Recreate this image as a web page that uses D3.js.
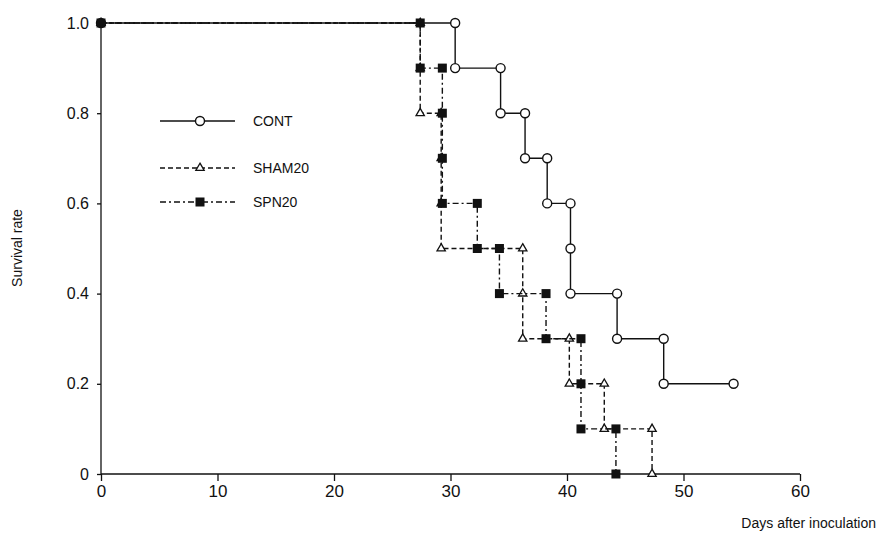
<!DOCTYPE html>
<html><head><meta charset="utf-8">
<script src="https://cdn.jsdelivr.net/npm/d3@7"></script>
<style>body{margin:0;background:#fff}text{font-family:"Liberation Sans",Arial,sans-serif;fill:#111}</style>
</head><body><svg id="c" width="879" height="539"></svg>
<script>
var xTicks = [0, 10, 20, 30, 40, 50, 60];
var yTicks = [0, 0.2, 0.4, 0.6, 0.8, 1.0];
var contPts = [[0,1],[30.4,1],[30.4,0.9],[34.3,0.9],[34.3,0.8],[36.4,0.8],[36.4,0.7],[38.3,0.7],[38.3,0.6],[40.3,0.6],[40.3,0.5],[40.3,0.4],[44.3,0.4],[44.3,0.3],[48.3,0.3],[48.3,0.2],[54.3,0.2]];
var shamPts = [[0,1],[27.4,1],[27.4,0.9],[27.4,0.8],[29.2,0.8],[29.2,0.7],[29.2,0.6],[29.2,0.5],[36.2,0.5],[36.2,0.4],[36.2,0.3],[40.2,0.3],[40.2,0.2],[43.2,0.2],[43.2,0.1],[47.3,0.1],[47.3,0]];
var spnPts = [[0,1],[27.4,1],[27.4,0.9],[29.3,0.9],[29.3,0.8],[29.3,0.7],[29.3,0.6],[32.3,0.6],[32.3,0.5],[34.2,0.5],[34.2,0.4],[38.2,0.4],[38.2,0.3],[41.2,0.3],[41.2,0.2],[41.2,0.1],[44.2,0.1],[44.2,0]];

var svg = d3.select("#c");
var x = d3.scaleLinear().domain([0, 60]).range([101, 800]);
var y = d3.scaleLinear().domain([0, 1]).range([474, 23]);

var xa = svg.append("g").attr("transform", "translate(0,474)")
    .call(d3.axisBottom(x).tickValues(xTicks).tickSize(7).tickPadding(4));
xa.select(".domain").attr("d", "M101,0H800");
xa.selectAll("text").attr("font-size", 17);
var ya = svg.append("g").attr("transform", "translate(101,0)")
    .call(d3.axisLeft(y).tickValues(yTicks).tickSize(4).tickPadding(8)
    .tickFormat(function(d) { return d === 0 ? "0" : d3.format(".1f")(d); }));
ya.select(".domain").attr("d", "M0,474V23");
ya.selectAll("text").attr("font-size", 16);
svg.selectAll(".domain, .tick line").attr("stroke", "#111").attr("stroke-width", 1.3);

svg.append("text").attr("transform", "translate(22,248) rotate(-90)")
    .attr("text-anchor", "middle").attr("font-size", 14).text("Survival rate");
svg.append("text").attr("x", 876).attr("y", 528).attr("text-anchor", "end")
    .attr("font-size", 14).text("Days after inoculation");

var series = [
    { name: "CONT", pts: contPts, dash: null, mark: "circle", ly: 121 },
    { name: "SHAM20", pts: shamPts, dash: "5,3", mark: "tri", ly: 168 },
    { name: "SPN20", pts: spnPts, dash: "6,3,2,3", mark: "sq", ly: 202 }
];
var line = d3.line().x(function(d) { return x(d[0]); }).y(function(d) { return y(d[1]); });

function marker(g, m, cx, cy) {
    if (m === "circle") g.append("circle").attr("cx", cx).attr("cy", cy).attr("r", 4.5)
        .attr("fill", "#fff").attr("stroke", "#111").attr("stroke-width", 1.4);
    else if (m === "tri") g.append("path").attr("d", d3.symbol(d3.symbolTriangle, 30)())
        .attr("transform", "translate(" + cx + "," + cy + ")")
        .attr("fill", "#fff").attr("stroke", "#111").attr("stroke-width", 1.3);
    else g.append("rect").attr("x", cx - 4.5).attr("y", cy - 4.5).attr("width", 9).attr("height", 9)
        .attr("fill", "#111");
}

series.forEach(function(s) {
    var g = svg.append("g");
    g.append("path").attr("d", line(s.pts)).attr("fill", "none").attr("stroke", "#111")
        .attr("stroke-width", 1.4).attr("stroke-dasharray", s.dash);
    s.pts.forEach(function(p) { marker(g, s.mark, x(p[0]), y(p[1])); });
    g.append("line").attr("x1", 160).attr("x2", 235).attr("y1", s.ly).attr("y2", s.ly)
        .attr("stroke", "#111").attr("stroke-width", 1.4).attr("stroke-dasharray", s.dash);
    marker(g, s.mark, 200, s.ly);
    g.append("text").attr("x", 253).attr("y", s.ly + 5).attr("font-size", 14).text(s.name);
});
</script></body></html>
